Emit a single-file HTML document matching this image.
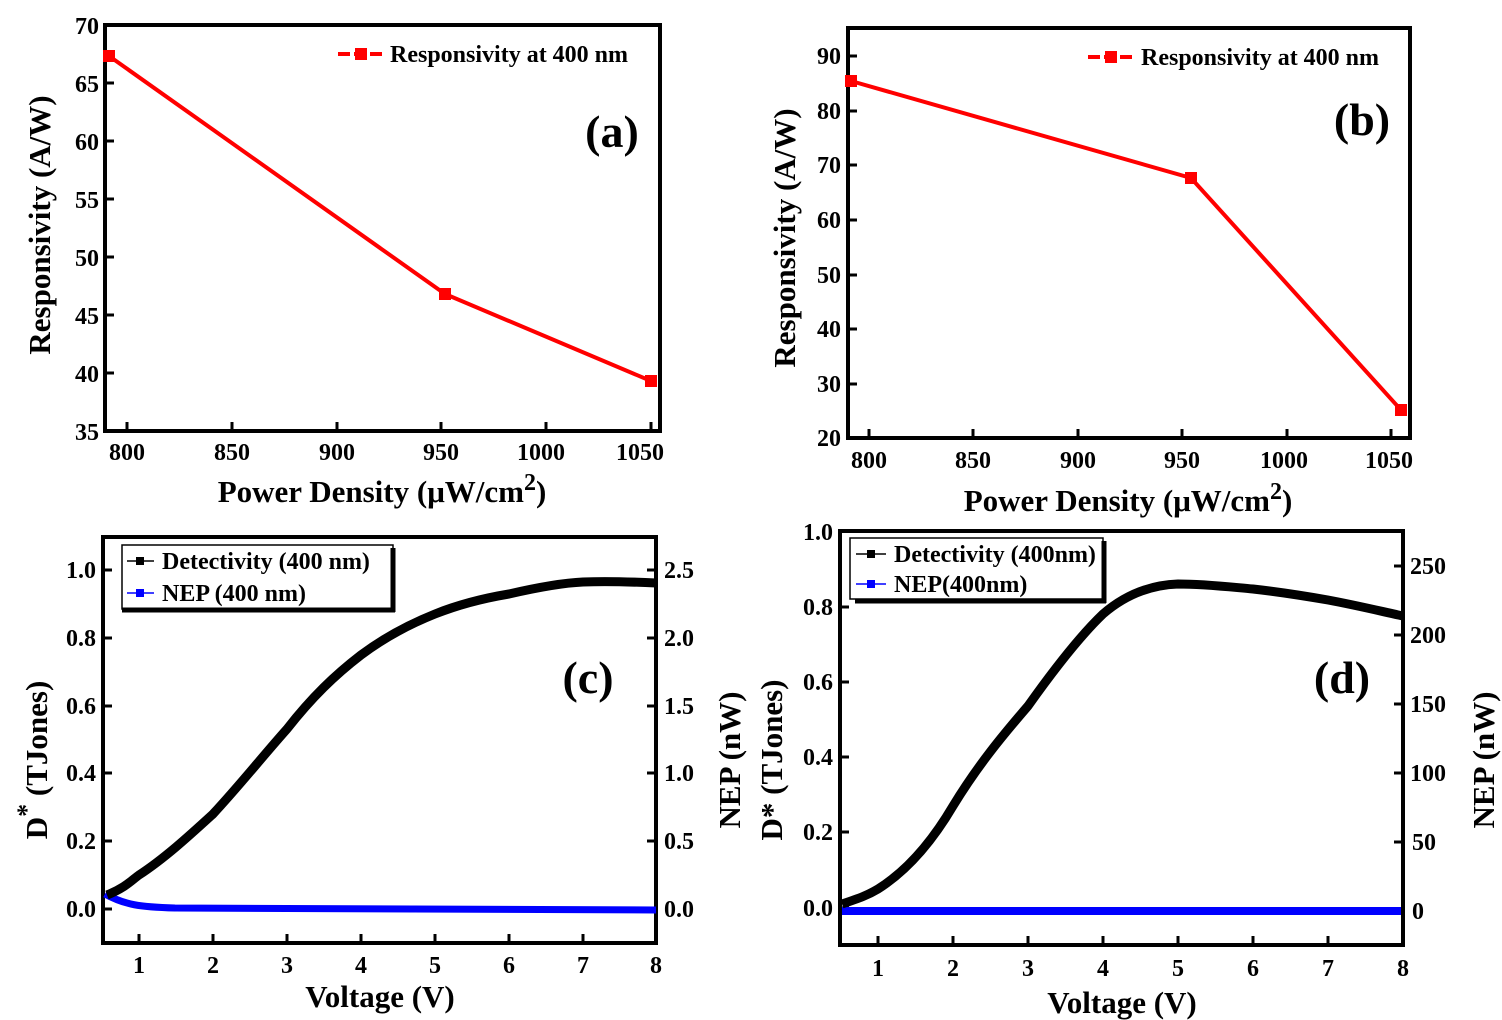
<!DOCTYPE html>
<html><head><meta charset="utf-8"><style>
html,body{margin:0;padding:0;background:#fff}
svg{display:block}
text{font-family:"Liberation Serif",serif;font-weight:bold;fill:#000}
.t{font-size:24px}
.ax{font-size:31px}
.pl{font-size:46px}
.lg{font-size:24px}
</style></head><body>
<svg width="1502" height="1020" viewBox="0 0 1502 1020" xmlns="http://www.w3.org/2000/svg">
<!-- Panel a -->
<g>
<rect x="105" y="25" width="555" height="406" fill="none" stroke="#000" stroke-width="4"/>
<g stroke="#000" stroke-width="3">
<line x1="127" y1="431" x2="127" y2="422"/><line x1="232" y1="431" x2="232" y2="422"/><line x1="337" y1="431" x2="337" y2="422"/><line x1="441" y1="431" x2="441" y2="422"/><line x1="546" y1="431" x2="546" y2="422"/><line x1="651" y1="431" x2="651" y2="422"/>
<line x1="105" y1="373" x2="114" y2="373"/><line x1="105" y1="315" x2="114" y2="315"/><line x1="105" y1="257" x2="114" y2="257"/><line x1="105" y1="199" x2="114" y2="199"/><line x1="105" y1="141" x2="114" y2="141"/><line x1="105" y1="83" x2="114" y2="83"/>
</g>
<g class="t" text-anchor="end">
<text x="99" y="34">70</text><text x="99" y="92">65</text><text x="99" y="150">60</text><text x="99" y="208">55</text><text x="99" y="266">50</text><text x="99" y="324">45</text><text x="99" y="382">40</text><text x="99" y="440">35</text>
</g>
<g class="t" text-anchor="middle">
<text x="127" y="460">800</text><text x="232" y="460">850</text><text x="337" y="460">900</text><text x="441" y="460">950</text><text x="541" y="460">1000</text><text x="640" y="460">1050</text>
</g>
<text class="ax" x="382" y="502" text-anchor="middle">Power Density (μW/cm<tspan dy="-12" font-size="24">2</tspan><tspan dy="12">)</tspan></text>
<text class="ax" transform="translate(50,225) rotate(-90)" text-anchor="middle">Responsivity (A/W)</text>
<text class="pl" x="612" y="147" text-anchor="middle">(a)</text>
<polyline points="109,56 445,294 651,381" fill="none" stroke="#f00" stroke-width="4"/>
<rect x="103" y="50" width="12" height="12" fill="#f00"/><rect x="439" y="288" width="12" height="12" fill="#f00"/><rect x="645" y="375" width="12" height="12" fill="#f00"/>
<line x1="338" y1="54" x2="384" y2="54" stroke="#f00" stroke-width="4" stroke-dasharray="12,4"/>
<rect x="355" y="48" width="12" height="12" fill="#f00"/>
<text class="lg" x="390" y="62">Responsivity at 400 nm</text>
</g>
<!-- Panel b -->
<g>
<rect x="848" y="28" width="562" height="410" fill="none" stroke="#000" stroke-width="4"/>
<g stroke="#000" stroke-width="3">
<line x1="869" y1="438" x2="869" y2="429"/><line x1="973" y1="438" x2="973" y2="429"/><line x1="1078" y1="438" x2="1078" y2="429"/><line x1="1182" y1="438" x2="1182" y2="429"/><line x1="1287" y1="438" x2="1287" y2="429"/><line x1="1391" y1="438" x2="1391" y2="429"/>
<line x1="848" y1="384" x2="857" y2="384"/><line x1="848" y1="329" x2="857" y2="329"/><line x1="848" y1="275" x2="857" y2="275"/><line x1="848" y1="220" x2="857" y2="220"/><line x1="848" y1="165" x2="857" y2="165"/><line x1="848" y1="111" x2="857" y2="111"/><line x1="848" y1="56" x2="857" y2="56"/>
</g>
<g class="t" text-anchor="end">
<text x="841" y="64">90</text><text x="841" y="119">80</text><text x="841" y="173">70</text><text x="841" y="228">60</text><text x="841" y="283">50</text><text x="841" y="337">40</text><text x="841" y="392">30</text><text x="841" y="446">20</text>
</g>
<g class="t" text-anchor="middle">
<text x="869" y="468">800</text><text x="973" y="468">850</text><text x="1078" y="468">900</text><text x="1182" y="468">950</text><text x="1284" y="468">1000</text><text x="1389" y="468">1050</text>
</g>
<text class="ax" x="1128" y="511" text-anchor="middle">Power Density (μW/cm<tspan dy="-12" font-size="24">2</tspan><tspan dy="12">)</tspan></text>
<text class="ax" transform="translate(795,238) rotate(-90)" text-anchor="middle">Responsivity (A/W)</text>
<text class="pl" x="1362" y="135" text-anchor="middle">(b)</text>
<polyline points="851,81 1191,178 1401,410" fill="none" stroke="#f00" stroke-width="4"/>
<rect x="845" y="75" width="12" height="12" fill="#f00"/><rect x="1185" y="172" width="12" height="12" fill="#f00"/><rect x="1395" y="404" width="12" height="12" fill="#f00"/>
<line x1="1088" y1="57" x2="1134" y2="57" stroke="#f00" stroke-width="4" stroke-dasharray="12,4"/>
<rect x="1105" y="51" width="12" height="12" fill="#f00"/>
<text class="lg" x="1141" y="65">Responsivity at 400 nm</text>
</g>
<!-- Panel c -->
<g>
<rect x="103" y="537" width="553" height="406" fill="none" stroke="#000" stroke-width="4"/>
<g stroke="#000" stroke-width="3">
<line x1="139" y1="943" x2="139" y2="934"/><line x1="213" y1="943" x2="213" y2="934"/><line x1="287" y1="943" x2="287" y2="934"/><line x1="361" y1="943" x2="361" y2="934"/><line x1="435" y1="943" x2="435" y2="934"/><line x1="509" y1="943" x2="509" y2="934"/><line x1="583" y1="943" x2="583" y2="934"/>
<line x1="103" y1="909" x2="112" y2="909"/><line x1="103" y1="841" x2="112" y2="841"/><line x1="103" y1="773" x2="112" y2="773"/><line x1="103" y1="706" x2="112" y2="706"/><line x1="103" y1="638" x2="112" y2="638"/><line x1="103" y1="570" x2="112" y2="570"/>
<line x1="656" y1="909" x2="647" y2="909"/><line x1="656" y1="841" x2="647" y2="841"/><line x1="656" y1="773" x2="647" y2="773"/><line x1="656" y1="706" x2="647" y2="706"/><line x1="656" y1="638" x2="647" y2="638"/><line x1="656" y1="570" x2="647" y2="570"/>
</g>
<g class="t" text-anchor="end">
<text x="96" y="917">0.0</text><text x="96" y="849">0.2</text><text x="96" y="781">0.4</text><text x="96" y="714">0.6</text><text x="96" y="646">0.8</text><text x="96" y="578">1.0</text>
</g>
<g class="t">
<text x="664" y="917">0.0</text><text x="664" y="849">0.5</text><text x="664" y="781">1.0</text><text x="664" y="714">1.5</text><text x="664" y="646">2.0</text><text x="664" y="578">2.5</text>
</g>
<g class="t" text-anchor="middle">
<text x="139" y="973">1</text><text x="213" y="973">2</text><text x="287" y="973">3</text><text x="361" y="973">4</text><text x="435" y="973">5</text><text x="509" y="973">6</text><text x="583" y="973">7</text><text x="656" y="973">8</text>
</g>
<text class="ax" x="380" y="1007" text-anchor="middle">Voltage (V)</text>
<text class="ax" transform="translate(47,760) rotate(-90)" text-anchor="middle">D<tspan dy="-12" font-size="26">*</tspan><tspan dy="12"> (TJones)</tspan></text>
<text class="ax" transform="translate(740,760) rotate(-90)" text-anchor="middle">NEP (nW)</text>
<text class="pl" x="588" y="693" text-anchor="middle">(c)</text>
<path d="M105,894 C 125,905 140,907 175,908 L 656,910" fill="none" stroke="#0000ff" stroke-width="7"/>
<path d="M107,895 C 125,888 132,880 139,875 C 165,858 190,835 213,814 C 240,785 262,757 287,729 C 312,697 335,675 361,655 C 385,637 410,624 435,614 C 460,604 485,598 509,594 C 535,588 560,583 583,582 C 610,581 635,582 656,583" fill="none" stroke="#000" stroke-width="9"/>
<rect x="122" y="545" width="271" height="64" fill="#fff" stroke="#000" stroke-width="1.5"/>
<line x1="393" y1="548" x2="393" y2="612" stroke="#000" stroke-width="5"/>
<line x1="122" y1="610" x2="395" y2="610" stroke="#000" stroke-width="5"/>
<line x1="127" y1="561" x2="154" y2="561" stroke="#000" stroke-width="1.5"/><rect x="136" y="557" width="8" height="8" fill="#000"/>
<line x1="127" y1="593" x2="154" y2="593" stroke="#0000ff" stroke-width="1.5"/><rect x="136" y="589" width="8" height="8" fill="#0000ff"/>
<text class="lg" x="162" y="569">Detectivity (400 nm)</text>
<text class="lg" x="162" y="601">NEP (400 nm)</text>
</g>
<!-- Panel d -->
<g>
<rect x="840" y="531" width="563" height="414" fill="none" stroke="#000" stroke-width="4"/>
<g stroke="#000" stroke-width="3">
<line x1="878" y1="945" x2="878" y2="936"/><line x1="953" y1="945" x2="953" y2="936"/><line x1="1028" y1="945" x2="1028" y2="936"/><line x1="1103" y1="945" x2="1103" y2="936"/><line x1="1178" y1="945" x2="1178" y2="936"/><line x1="1253" y1="945" x2="1253" y2="936"/><line x1="1328" y1="945" x2="1328" y2="936"/>
<line x1="840" y1="908" x2="849" y2="908"/><line x1="840" y1="832" x2="849" y2="832"/><line x1="840" y1="757" x2="849" y2="757"/><line x1="840" y1="682" x2="849" y2="682"/><line x1="840" y1="607" x2="849" y2="607"/>
<line x1="1403" y1="911" x2="1394" y2="911"/><line x1="1403" y1="842" x2="1394" y2="842"/><line x1="1403" y1="773" x2="1394" y2="773"/><line x1="1403" y1="704" x2="1394" y2="704"/><line x1="1403" y1="635" x2="1394" y2="635"/><line x1="1403" y1="566" x2="1394" y2="566"/>
</g>
<g class="t" text-anchor="end">
<text x="833" y="916">0.0</text><text x="833" y="840">0.2</text><text x="833" y="765">0.4</text><text x="833" y="690">0.6</text><text x="833" y="615">0.8</text><text x="833" y="540">1.0</text>
</g>
<g class="t">
<text x="1412" y="919">0</text><text x="1412" y="850">50</text><text x="1410" y="781">100</text><text x="1410" y="712">150</text><text x="1410" y="643">200</text><text x="1410" y="574">250</text>
</g>
<g class="t" text-anchor="middle">
<text x="878" y="976">1</text><text x="953" y="976">2</text><text x="1028" y="976">3</text><text x="1103" y="976">4</text><text x="1178" y="976">5</text><text x="1253" y="976">6</text><text x="1328" y="976">7</text><text x="1403" y="976">8</text>
</g>
<text class="ax" x="1122" y="1013" text-anchor="middle">Voltage (V)</text>
<text class="ax" transform="translate(782,760) rotate(-90)" text-anchor="middle">D* (TJones)</text>
<text class="ax" transform="translate(1494,760) rotate(-90)" text-anchor="middle">NEP (nW)</text>
<text class="pl" x="1342" y="693" text-anchor="middle">(d)</text>
<line x1="842" y1="911" x2="1401" y2="911" stroke="#0000ff" stroke-width="8"/>
<path d="M842,904 C 860,898 868,895 878,889 C 905,872 930,845 953,806 C 978,765 1003,735 1028,706 C 1055,668 1080,636 1103,614 C 1125,595 1150,585 1178,584 C 1205,584 1230,587 1253,589 C 1280,592 1305,596 1328,600 C 1355,605 1380,611 1403,616" fill="none" stroke="#000" stroke-width="9"/>
<rect x="850" y="538" width="253" height="61" fill="#fff" stroke="#000" stroke-width="1.5"/>
<line x1="1104" y1="541" x2="1104" y2="603" stroke="#000" stroke-width="5"/>
<line x1="855" y1="601" x2="1106" y2="601" stroke="#000" stroke-width="5"/>
<line x1="856" y1="554" x2="886" y2="554" stroke="#000" stroke-width="1.5"/><rect x="867" y="550" width="8" height="8" fill="#000"/>
<line x1="856" y1="584" x2="886" y2="584" stroke="#0000ff" stroke-width="1.5"/><rect x="867" y="580" width="8" height="8" fill="#0000ff"/>
<text class="lg" x="894" y="562">Detectivity (400nm)</text>
<text class="lg" x="894" y="592">NEP(400nm)</text>
</g>
</svg>
</body></html>
